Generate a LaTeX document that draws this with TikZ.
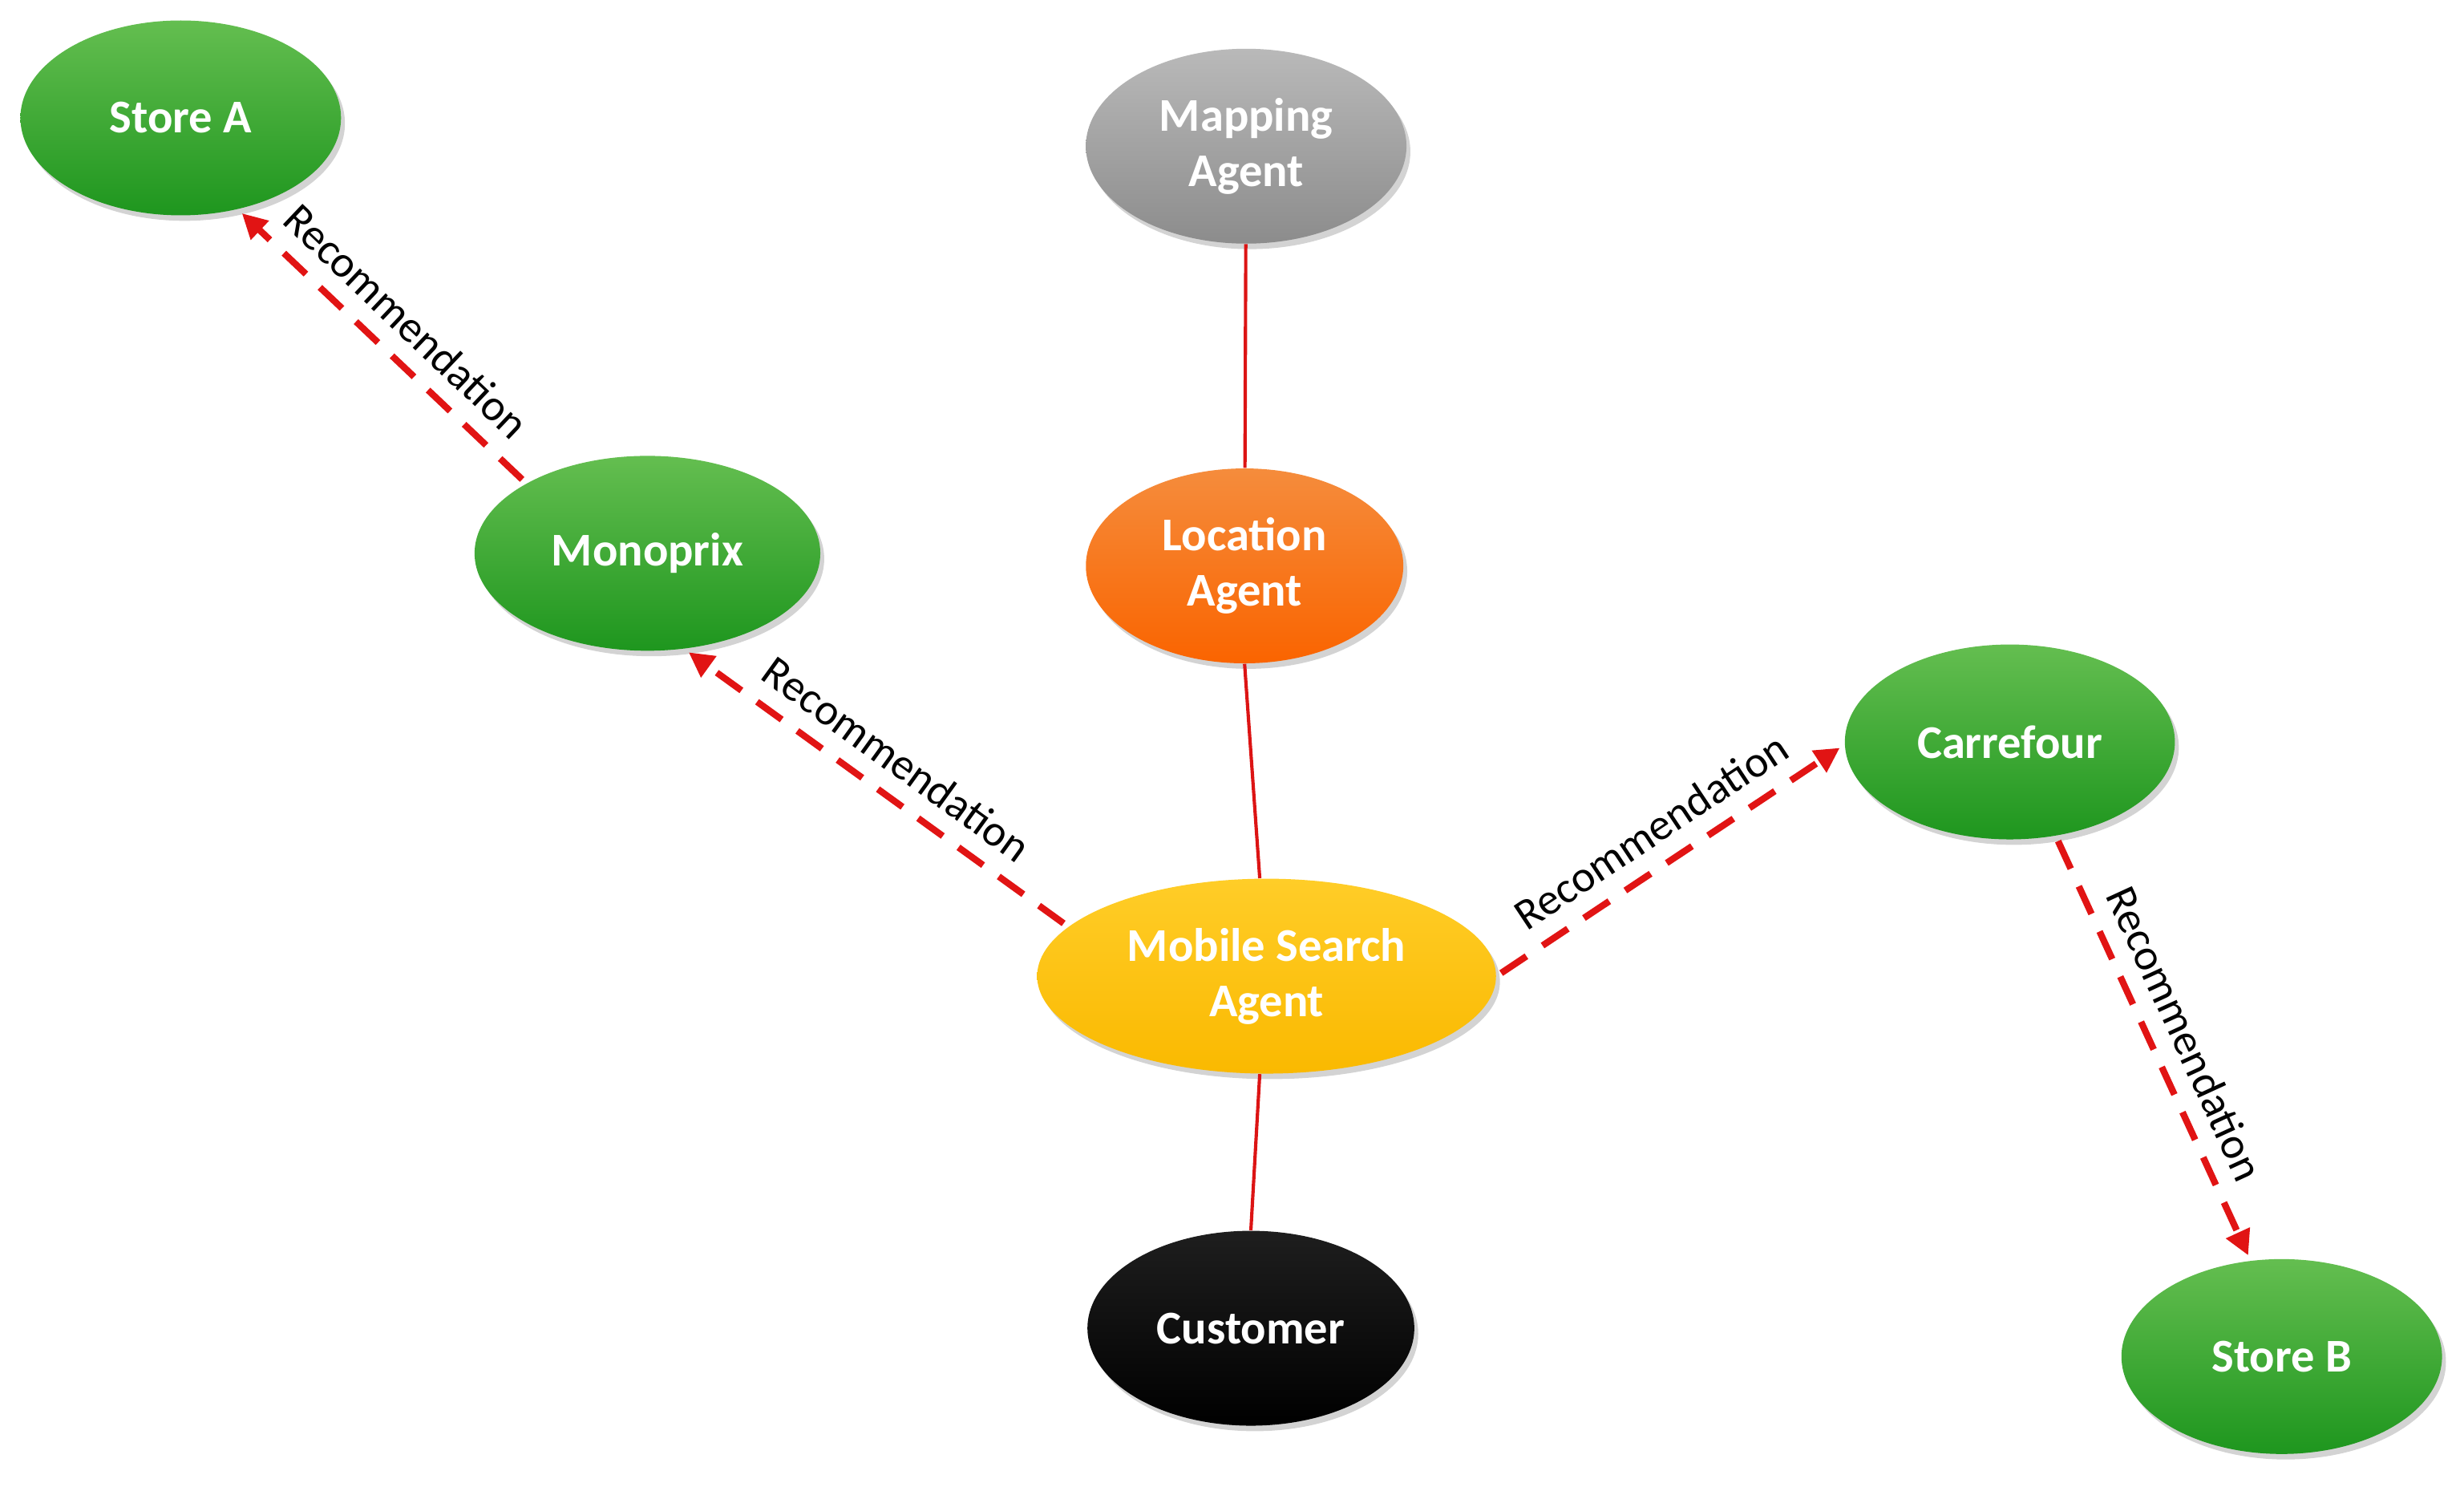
\documentclass[tikz,border=0pt]{standalone}
\usepackage{fontspec}
\setmainfont{Carlito}
\usetikzlibrary{arrows.meta,shadows,shapes.geometric}
\begin{document}
\begin{tikzpicture}[x=0.02cm,y=-0.02cm,
 ag/.style={ellipse,draw=none,minimum width=#1*0.02cm,minimum height=2.48cm,inner sep=0pt,
   text=white,font=\fontsize{17}{20}\selectfont\bfseries,align=center,
   drop shadow={shadow xshift=0.05cm,shadow yshift=-0.07cm,opacity=0.35}},
 grn/.style={top color={rgb,255:red,100;green,190;blue,80},bottom color={rgb,255:red,30;green,150;blue,30}},
 link/.style={draw={rgb,255:red,220;green,20;blue,20},line width=1.2pt},
 rec/.style={draw={rgb,255:red,225;green,20;blue,20},line width=2.4pt,dash pattern=on 11pt off 7pt,
   -{Triangle[length=9pt,width=9pt]},shorten <=2pt,shorten >=2pt},
 lab/.style={font=\fontsize{16}{18}\selectfont,sloped,above,midway,inner sep=6pt}]
\useasboundingbox (0,0) rectangle (1568,946);
\node[ag=204,grn] (sa) at (115,75) {Store A};
\node[ag=204,top color={rgb,255:red,185;green,185;blue,185},bottom color={rgb,255:red,140;green,140;blue,140}] (ma) at (793,93) {Mapping\\Agent};
\node[ag=220,grn] (mo) at (412,352) {Monoprix};
\node[ag=202,top color={rgb,255:red,245;green,140;blue,60},bottom color={rgb,255:red,250;green,100;blue,0}] (la) at (792,360) {Location\\Agent};
\node[ag=210,grn] (ca) at (1279,472) {Carrefour};
\node[ag=292,top color={rgb,255:red,255;green,205;blue,40},bottom color={rgb,255:red,250;green,185;blue,0}] (ms) at (806,621) {Mobile Search\\Agent};
\node[ag=208,top color={rgb,255:red,30;green,30;blue,30},bottom color=black] (cu) at (796,845) {Customer};
\node[ag=204,grn] (sb) at (1452,863) {Store B};
\draw[link] (ma) -- (la);
\draw[link] (la.south) -- (ms.94);
\draw[link] (ms.-94) -- (cu.north);
\draw[rec] (mo.150) -- (sa.-58) node[lab] {Recommendation};
\draw[rec] (ms.166) -- (mo.-69) node[lab] {Recommendation};
\draw[rec] (ms.0) -- (ca.181) node[lab] {Recommendation};
\draw[rec] (ca.-64) -- (sb.108) node[lab] {Recommendation};
\end{tikzpicture}
\end{document}
